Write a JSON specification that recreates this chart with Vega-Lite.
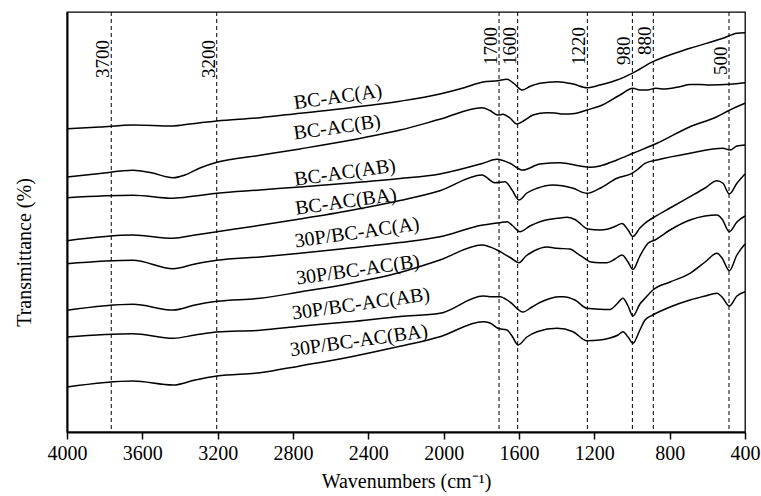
{
  "$schema": "https://vega.github.io/schema/vega-lite/v6.json",
  "width": 678,
  "height": 420,
  "autosize": {"type": "none"},
  "padding": {"left": 67, "top": 12, "right": 16, "bottom": 64},
  "background": "white",
  "config": {
    "view": {"stroke": "black", "strokeWidth": 1.3},
    "font": "Liberation Serif",
    "axis": {"labelFont": "Liberation Serif", "titleFont": "Liberation Serif", "labelColor": "black", "titleColor": "black", "titleFontWeight": "normal", "grid": false}
  },
  "datasets": {
    "spectra": [
      {"s":"BC-AC(A)","w":4000,"t":303.3},{"s":"BC-AC(A)","w":3825,"t":305},{"s":"BC-AC(A)","w":3650,"t":307},{"s":"BC-AC(A)","w":3437,"t":306},{"s":"BC-AC(A)","w":3347,"t":308},{"s":"BC-AC(A)","w":3204,"t":311},{"s":"BC-AC(A)","w":2975,"t":314.3},{"s":"BC-AC(A)","w":2763,"t":318.8},{"s":"BC-AC(A)","w":2497,"t":324.3},{"s":"BC-AC(A)","w":2232,"t":330.8},{"s":"BC-AC(A)","w":2020,"t":338},{"s":"BC-AC(A)","w":1887,"t":344.5},{"s":"BC-AC(A)","w":1791,"t":350},{"s":"BC-AC(A)","w":1712,"t":351.3},{"s":"BC-AC(A)","w":1664,"t":352.7},{"s":"BC-AC(A)","w":1627,"t":348.5},{"s":"BC-AC(A)","w":1584,"t":342},{"s":"BC-AC(A)","w":1542,"t":345.5},{"s":"BC-AC(A)","w":1489,"t":348.7},{"s":"BC-AC(A)","w":1398,"t":350.3},{"s":"BC-AC(A)","w":1313,"t":348},{"s":"BC-AC(A)","w":1239,"t":344.3},{"s":"BC-AC(A)","w":1170,"t":347},{"s":"BC-AC(A)","w":1080,"t":352},{"s":"BC-AC(A)","w":1000,"t":358.7},{"s":"BC-AC(A)","w":889,"t":370.3},{"s":"BC-AC(A)","w":692,"t":383.7},{"s":"BC-AC(A)","w":517,"t":393.7},{"s":"BC-AC(A)","w":443,"t":398.7},{"s":"BC-AC(A)","w":400,"t":399.3},

      {"s":"BC-AC(B)","w":4000,"t":255},{"s":"BC-AC(B)","w":3825,"t":258.5},{"s":"BC-AC(B)","w":3650,"t":261.7},{"s":"BC-AC(B)","w":3559,"t":259.5},{"s":"BC-AC(B)","w":3437,"t":254.3},{"s":"BC-AC(B)","w":3374,"t":257},{"s":"BC-AC(B)","w":3294,"t":264},{"s":"BC-AC(B)","w":3204,"t":269.7},{"s":"BC-AC(B)","w":2975,"t":276.7},{"s":"BC-AC(B)","w":2763,"t":283.1},{"s":"BC-AC(B)","w":2497,"t":291.7},{"s":"BC-AC(B)","w":2232,"t":301.9},{"s":"BC-AC(B)","w":2020,"t":312.7},{"s":"BC-AC(B)","w":1797,"t":324.3},{"s":"BC-AC(B)","w":1754,"t":321.5},{"s":"BC-AC(B)","w":1712,"t":317},{"s":"BC-AC(B)","w":1685,"t":317.7},{"s":"BC-AC(B)","w":1648,"t":314},{"s":"BC-AC(B)","w":1611,"t":308},{"s":"BC-AC(B)","w":1568,"t":312},{"s":"BC-AC(B)","w":1526,"t":317},{"s":"BC-AC(B)","w":1451,"t":319.3},{"s":"BC-AC(B)","w":1409,"t":319},{"s":"BC-AC(B)","w":1366,"t":318},{"s":"BC-AC(B)","w":1303,"t":318.5},{"s":"BC-AC(B)","w":1239,"t":322},{"s":"BC-AC(B)","w":1170,"t":326},{"s":"BC-AC(B)","w":1064,"t":337},{"s":"BC-AC(B)","w":995,"t":343.7},{"s":"BC-AC(B)","w":958,"t":342},{"s":"BC-AC(B)","w":920,"t":342},{"s":"BC-AC(B)","w":873,"t":343.7},{"s":"BC-AC(B)","w":825,"t":343},{"s":"BC-AC(B)","w":745,"t":345.3},{"s":"BC-AC(B)","w":692,"t":347.5},{"s":"BC-AC(B)","w":639,"t":347.5},{"s":"BC-AC(B)","w":586,"t":347},{"s":"BC-AC(B)","w":480,"t":347.7},{"s":"BC-AC(B)","w":400,"t":349.3},

      {"s":"BC-AC(AB)","w":4000,"t":234.3},{"s":"BC-AC(AB)","w":3650,"t":236.7},{"s":"BC-AC(AB)","w":3437,"t":233.7},{"s":"BC-AC(AB)","w":3320,"t":236},{"s":"BC-AC(AB)","w":3204,"t":238.7},{"s":"BC-AC(AB)","w":2975,"t":242},{"s":"BC-AC(AB)","w":2763,"t":245.1},{"s":"BC-AC(AB)","w":2497,"t":248.9},{"s":"BC-AC(AB)","w":2232,"t":253.4},{"s":"BC-AC(AB)","w":2020,"t":258},{"s":"BC-AC(AB)","w":1791,"t":268.7},{"s":"BC-AC(AB)","w":1717,"t":272.7},{"s":"BC-AC(AB)","w":1685,"t":271.5},{"s":"BC-AC(AB)","w":1648,"t":268.7},{"s":"BC-AC(AB)","w":1579,"t":262},{"s":"BC-AC(AB)","w":1489,"t":268},{"s":"BC-AC(AB)","w":1382,"t":269.3},{"s":"BC-AC(AB)","w":1276,"t":266},{"s":"BC-AC(AB)","w":1223,"t":264.7},{"s":"BC-AC(AB)","w":1170,"t":266},{"s":"BC-AC(AB)","w":1080,"t":272},{"s":"BC-AC(AB)","w":995,"t":278.7},{"s":"BC-AC(AB)","w":867,"t":288.7},{"s":"BC-AC(AB)","w":692,"t":305.3},{"s":"BC-AC(AB)","w":549,"t":315.3},{"s":"BC-AC(AB)","w":480,"t":322},{"s":"BC-AC(AB)","w":400,"t":328.7},

      {"s":"BC-AC(BA)","w":4000,"t":191.3},{"s":"BC-AC(BA)","w":3650,"t":197},{"s":"BC-AC(BA)","w":3437,"t":193.7},{"s":"BC-AC(BA)","w":3320,"t":197},{"s":"BC-AC(BA)","w":3204,"t":200.3},{"s":"BC-AC(BA)","w":2975,"t":206.7},{"s":"BC-AC(BA)","w":2763,"t":213},{"s":"BC-AC(BA)","w":2497,"t":221.5},{"s":"BC-AC(BA)","w":2232,"t":231.5},{"s":"BC-AC(BA)","w":2020,"t":241.3},{"s":"BC-AC(BA)","w":1797,"t":257},{"s":"BC-AC(BA)","w":1728,"t":249.3},{"s":"BC-AC(BA)","w":1674,"t":250.3},{"s":"BC-AC(BA)","w":1637,"t":242},{"s":"BC-AC(BA)","w":1600,"t":232},{"s":"BC-AC(BA)","w":1558,"t":239},{"s":"BC-AC(BA)","w":1504,"t":243.7},{"s":"BC-AC(BA)","w":1420,"t":247},{"s":"BC-AC(BA)","w":1313,"t":243.7},{"s":"BC-AC(BA)","w":1239,"t":238.7},{"s":"BC-AC(BA)","w":1170,"t":243.7},{"s":"BC-AC(BA)","w":1080,"t":253.7},{"s":"BC-AC(BA)","w":1000,"t":258.7},{"s":"BC-AC(BA)","w":974,"t":262},{"s":"BC-AC(BA)","w":931,"t":268.7},{"s":"BC-AC(BA)","w":867,"t":272},{"s":"BC-AC(BA)","w":692,"t":278.7},{"s":"BC-AC(BA)","w":517,"t":283.7},{"s":"BC-AC(BA)","w":480,"t":282},{"s":"BC-AC(BA)","w":443,"t":286},{"s":"BC-AC(BA)","w":400,"t":287},

      {"s":"30P/BC-AC(A)","w":4000,"t":168.3},{"s":"30P/BC-AC(A)","w":3650,"t":171.7},{"s":"30P/BC-AC(A)","w":3437,"t":163.3},{"s":"30P/BC-AC(A)","w":3320,"t":168},{"s":"30P/BC-AC(A)","w":3204,"t":171.7},{"s":"30P/BC-AC(A)","w":2975,"t":175},{"s":"30P/BC-AC(A)","w":2763,"t":178.7},{"s":"30P/BC-AC(A)","w":2497,"t":184},{"s":"30P/BC-AC(A)","w":2232,"t":189.5},{"s":"30P/BC-AC(A)","w":2020,"t":195.3},{"s":"30P/BC-AC(A)","w":1791,"t":207},{"s":"30P/BC-AC(A)","w":1754,"t":208},{"s":"30P/BC-AC(A)","w":1701,"t":209.3},{"s":"30P/BC-AC(A)","w":1664,"t":210.3},{"s":"30P/BC-AC(A)","w":1632,"t":206},{"s":"30P/BC-AC(A)","w":1595,"t":200.3},{"s":"30P/BC-AC(A)","w":1542,"t":206},{"s":"30P/BC-AC(A)","w":1489,"t":210.3},{"s":"30P/BC-AC(A)","w":1382,"t":214},{"s":"30P/BC-AC(A)","w":1345,"t":214.7},{"s":"30P/BC-AC(A)","w":1303,"t":212.5},{"s":"30P/BC-AC(A)","w":1234,"t":203},{"s":"30P/BC-AC(A)","w":1170,"t":202},{"s":"30P/BC-AC(A)","w":1133,"t":202.7},{"s":"30P/BC-AC(A)","w":1085,"t":206},{"s":"30P/BC-AC(A)","w":1053,"t":208.5},{"s":"30P/BC-AC(A)","w":1021,"t":202},{"s":"30P/BC-AC(A)","w":995,"t":195.5},{"s":"30P/BC-AC(A)","w":958,"t":204},{"s":"30P/BC-AC(A)","w":920,"t":210.3},{"s":"30P/BC-AC(A)","w":878,"t":215.3},{"s":"30P/BC-AC(A)","w":798,"t":224},{"s":"30P/BC-AC(A)","w":692,"t":235.3},{"s":"30P/BC-AC(A)","w":612,"t":244},{"s":"30P/BC-AC(A)","w":549,"t":251.3},{"s":"30P/BC-AC(A)","w":517,"t":248.7},{"s":"30P/BC-AC(A)","w":483,"t":238},{"s":"30P/BC-AC(A)","w":443,"t":248.7},{"s":"30P/BC-AC(A)","w":400,"t":258},

      {"s":"30P/BC-AC(B)","w":4000,"t":121.7},{"s":"30P/BC-AC(B)","w":3650,"t":127.7},{"s":"30P/BC-AC(B)","w":3437,"t":122},{"s":"30P/BC-AC(B)","w":3320,"t":127},{"s":"30P/BC-AC(B)","w":3204,"t":130.7},{"s":"30P/BC-AC(B)","w":2975,"t":133.7},{"s":"30P/BC-AC(B)","w":2763,"t":140},{"s":"30P/BC-AC(B)","w":2497,"t":148.6},{"s":"30P/BC-AC(B)","w":2232,"t":159.5},{"s":"30P/BC-AC(B)","w":2020,"t":172},{"s":"30P/BC-AC(B)","w":1797,"t":187},{"s":"30P/BC-AC(B)","w":1717,"t":182},{"s":"30P/BC-AC(B)","w":1685,"t":178.7},{"s":"30P/BC-AC(B)","w":1643,"t":174},{"s":"30P/BC-AC(B)","w":1600,"t":169.3},{"s":"30P/BC-AC(B)","w":1563,"t":176},{"s":"30P/BC-AC(B)","w":1526,"t":180.5},{"s":"30P/BC-AC(B)","w":1451,"t":185},{"s":"30P/BC-AC(B)","w":1398,"t":183.7},{"s":"30P/BC-AC(B)","w":1329,"t":183},{"s":"30P/BC-AC(B)","w":1292,"t":178.7},{"s":"30P/BC-AC(B)","w":1239,"t":172},{"s":"30P/BC-AC(B)","w":1223,"t":170.3},{"s":"30P/BC-AC(B)","w":1170,"t":169.3},{"s":"30P/BC-AC(B)","w":1133,"t":169.3},{"s":"30P/BC-AC(B)","w":1090,"t":173},{"s":"30P/BC-AC(B)","w":1053,"t":177},{"s":"30P/BC-AC(B)","w":1021,"t":170},{"s":"30P/BC-AC(B)","w":995,"t":162.5},{"s":"30P/BC-AC(B)","w":958,"t":176},{"s":"30P/BC-AC(B)","w":915,"t":188.7},{"s":"30P/BC-AC(B)","w":878,"t":192},{"s":"30P/BC-AC(B)","w":798,"t":202},{"s":"30P/BC-AC(B)","w":692,"t":212},{"s":"30P/BC-AC(B)","w":612,"t":216},{"s":"30P/BC-AC(B)","w":549,"t":217},{"s":"30P/BC-AC(B)","w":522,"t":213},{"s":"30P/BC-AC(B)","w":483,"t":200.3},{"s":"30P/BC-AC(B)","w":443,"t":210},{"s":"30P/BC-AC(B)","w":400,"t":216},

      {"s":"30P/BC-AC(AB)","w":4000,"t":95},{"s":"30P/BC-AC(AB)","w":3650,"t":98.3},{"s":"30P/BC-AC(AB)","w":3437,"t":93.7},{"s":"30P/BC-AC(AB)","w":3320,"t":97},{"s":"30P/BC-AC(AB)","w":3204,"t":100},{"s":"30P/BC-AC(AB)","w":2975,"t":101.7},{"s":"30P/BC-AC(AB)","w":2763,"t":105.7},{"s":"30P/BC-AC(AB)","w":2497,"t":110.3},{"s":"30P/BC-AC(AB)","w":2232,"t":115.5},{"s":"30P/BC-AC(AB)","w":2020,"t":118.7},{"s":"30P/BC-AC(AB)","w":1791,"t":136},{"s":"30P/BC-AC(AB)","w":1754,"t":135.3},{"s":"30P/BC-AC(AB)","w":1701,"t":135.3},{"s":"30P/BC-AC(AB)","w":1648,"t":130},{"s":"30P/BC-AC(AB)","w":1579,"t":120},{"s":"30P/BC-AC(AB)","w":1531,"t":125},{"s":"30P/BC-AC(AB)","w":1489,"t":129.5},{"s":"30P/BC-AC(AB)","w":1382,"t":135.3},{"s":"30P/BC-AC(AB)","w":1366,"t":135.3},{"s":"30P/BC-AC(AB)","w":1303,"t":132},{"s":"30P/BC-AC(AB)","w":1239,"t":123.7},{"s":"30P/BC-AC(AB)","w":1170,"t":122.7},{"s":"30P/BC-AC(AB)","w":1117,"t":122.5},{"s":"30P/BC-AC(AB)","w":1080,"t":128},{"s":"30P/BC-AC(AB)","w":1048,"t":133.7},{"s":"30P/BC-AC(AB)","w":1021,"t":126},{"s":"30P/BC-AC(AB)","w":995,"t":116},{"s":"30P/BC-AC(AB)","w":958,"t":128},{"s":"30P/BC-AC(AB)","w":931,"t":133.7},{"s":"30P/BC-AC(AB)","w":889,"t":142},{"s":"30P/BC-AC(AB)","w":798,"t":150},{"s":"30P/BC-AC(AB)","w":692,"t":158.7},{"s":"30P/BC-AC(AB)","w":612,"t":170},{"s":"30P/BC-AC(AB)","w":549,"t":178.7},{"s":"30P/BC-AC(AB)","w":522,"t":174},{"s":"30P/BC-AC(AB)","w":483,"t":161.3},{"s":"30P/BC-AC(AB)","w":443,"t":177},{"s":"30P/BC-AC(AB)","w":400,"t":188},

      {"s":"30P/BC-AC(BA)","w":4000,"t":45},{"s":"30P/BC-AC(BA)","w":3650,"t":51},{"s":"30P/BC-AC(BA)","w":3437,"t":47},{"s":"30P/BC-AC(BA)","w":3320,"t":52},{"s":"30P/BC-AC(BA)","w":3204,"t":56},{"s":"30P/BC-AC(BA)","w":2975,"t":59.3},{"s":"30P/BC-AC(BA)","w":2763,"t":66.1},{"s":"30P/BC-AC(BA)","w":2497,"t":75.1},{"s":"30P/BC-AC(BA)","w":2232,"t":85.7},{"s":"30P/BC-AC(BA)","w":2020,"t":95.3},{"s":"30P/BC-AC(BA)","w":1791,"t":110.3},{"s":"30P/BC-AC(BA)","w":1754,"t":109},{"s":"30P/BC-AC(BA)","w":1712,"t":103.7},{"s":"30P/BC-AC(BA)","w":1664,"t":102},{"s":"30P/BC-AC(BA)","w":1637,"t":96},{"s":"30P/BC-AC(BA)","w":1605,"t":87},{"s":"30P/BC-AC(BA)","w":1558,"t":95},{"s":"30P/BC-AC(BA)","w":1504,"t":100.3},{"s":"30P/BC-AC(BA)","w":1398,"t":103.7},{"s":"30P/BC-AC(BA)","w":1313,"t":100.3},{"s":"30P/BC-AC(BA)","w":1239,"t":91.3},{"s":"30P/BC-AC(BA)","w":1170,"t":92},{"s":"30P/BC-AC(BA)","w":1117,"t":94},{"s":"30P/BC-AC(BA)","w":1074,"t":97},{"s":"30P/BC-AC(BA)","w":1048,"t":100.3},{"s":"30P/BC-AC(BA)","w":1021,"t":95},{"s":"30P/BC-AC(BA)","w":995,"t":88.7},{"s":"30P/BC-AC(BA)","w":958,"t":102},{"s":"30P/BC-AC(BA)","w":931,"t":112},{"s":"30P/BC-AC(BA)","w":889,"t":117},{"s":"30P/BC-AC(BA)","w":798,"t":125},{"s":"30P/BC-AC(BA)","w":692,"t":132},{"s":"30P/BC-AC(BA)","w":612,"t":136},{"s":"30P/BC-AC(BA)","w":549,"t":138.7},{"s":"30P/BC-AC(BA)","w":522,"t":135},{"s":"30P/BC-AC(BA)","w":483,"t":126},{"s":"30P/BC-AC(BA)","w":443,"t":136},{"s":"30P/BC-AC(BA)","w":400,"t":140.3}
    ],
    "peaks": [
      {"p":"3700","w":3765,"t":354},{"p":"3200","w":3205,"t":354},{"p":"1700","w":1706,"t":367},{"p":"1600","w":1607,"t":367},{"p":"1220","w":1237,"t":367},{"p":"980","w":998,"t":367},{"p":"880","w":887,"t":377},{"p":"500","w":485,"t":357}
    ],
    "labels": [
      {"label":"BC-AC(A)","w":2561,"t":335},{"label":"BC-AC(B)","w":2566,"t":304.5},{"label":"BC-AC(AB)","w":2524,"t":259.3},{"label":"BC-AC(BA)","w":2519,"t":230.3},{"label":"30P/BC-AC(A)","w":2460,"t":199.3},{"label":"30P/BC-AC(B)","w":2455,"t":162},{"label":"30P/BC-AC(AB)","w":2439,"t":128},{"label":"30P/BC-AC(BA)","w":2450,"t":91.3}
    ]
  },
  "encoding": {
    "x": {"field": "w", "type": "quantitative", "scale": {"domain": [400, 4000], "reverse": true, "nice": false, "zero": false},
      "axis": {"values": [4000,3600,3200,2800,2400,2000,1600,1200,800,400], "format": "d", "title": "Wavenumbers (cm⁻¹)", "labelFontSize": 20, "titleFontSize": 20, "tickSize": 7, "tickWidth": 1.5, "tickColor": "black", "domainColor": "black", "domainWidth": 2, "labelPadding": 4, "titlePadding": 8, "labelFlush": false, "labelOverlap": false}},
    "y": {"field": "t", "type": "quantitative", "scale": {"domain": [0, 420], "nice": false, "zero": false},
      "axis": {"title": "Transmittance (%)", "titleFontSize": 20, "ticks": false, "labels": false, "domainColor": "black", "domainWidth": 2, "titlePadding": 33, "titleY": 240}}
  },
  "layer": [
    {"data": {"name": "spectra"}, "mark": {"type": "line", "color": "black", "strokeWidth": 1.5, "interpolate": "monotone"},
      "encoding": {"detail": {"field": "s"}}},
    {"data": {"name": "peaks"}, "mark": {"type": "rule", "color": "black", "strokeWidth": 1, "strokeDash": [4, 3]},
      "encoding": {"x": {"field": "w", "type": "quantitative"}, "y": null}},
    {"data": {"name": "peaks"}, "mark": {"type": "text", "angle": 270, "align": "left", "baseline": "alphabetic", "fontSize": 19, "font": "Liberation Serif", "color": "black", "dy": -2},
      "encoding": {"text": {"field": "p"}}},
    {"data": {"name": "labels"}, "mark": {"type": "text", "angle": -8, "align": "center", "baseline": "middle", "fontSize": 20, "font": "Liberation Serif", "color": "black"},
      "encoding": {"text": {"field": "label"}}}
  ]
}
